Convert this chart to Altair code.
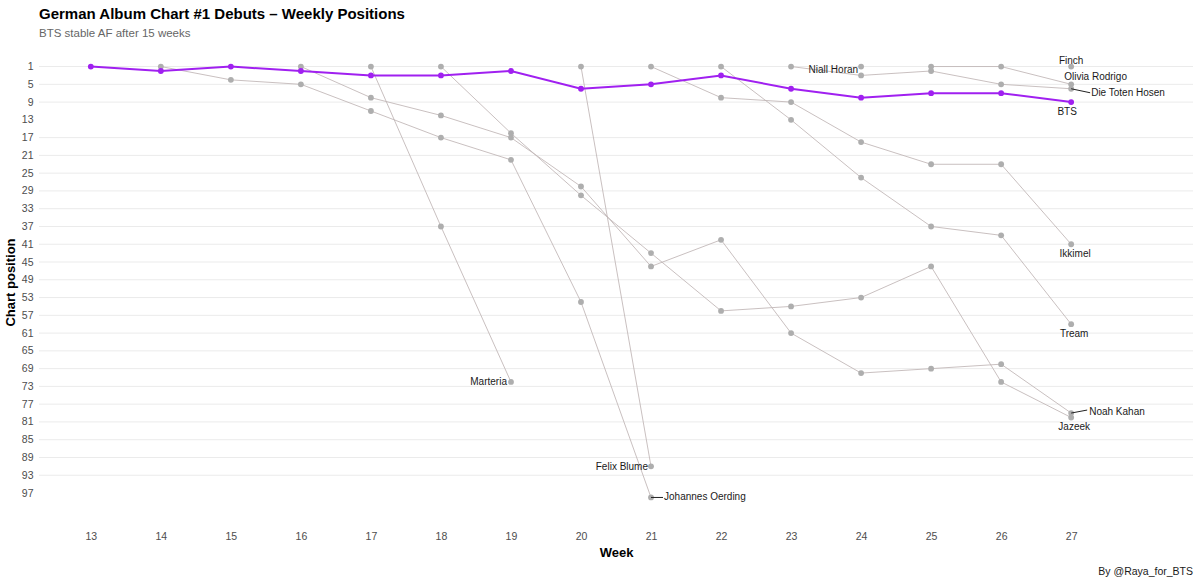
import altair as alt
import pandas as pd

TITLE = "German Album Chart #1 Debuts – Weekly Positions"
SUBTITLE = "BTS stable AF after 15 weeks"
CAPTION = "By @Raya_for_BTS"
X_TITLE = "Week"
Y_TITLE = "Chart position"

WEEK_TICKS = list(range(13, 28))
POS_TICKS = list(range(1, 98, 4))
GRID_POS = [p for p in POS_TICKS if p not in (13, 97)]

# weekly chart positions, starting at each album's debut week
BTS = [1, 2, 1, 2, 3, 3, 2, 6, 5, 3, 6, 8, 7, 7, 9]
JOHANNES_OERDING = [1, 4, 5, 11, 17, 22, 54, 98]
NOAH_KAHAN = [1, 8, 12, 17, 28, 46, 40, 61, 70, 69, 68, 79]
MARTERIA = [1, 37, 72]
JAZEEK = [1, 16, 30, 43, 56, 55, 53, 46, 72, 80]
FELIX_BLUME = [1, 91]
IKKIMEL = [1, 8, 9, 18, 23, 23, 41]
TREAM = [1, 13, 26, 37, 39, 59]
DIE_TOTEN_HOSEN = [1, 3, 2, 5, 6]
NIALL_HORAN = [1]
OLIVIA_RODRIGO = [1, 1, 5]
FINCH = [1]

ARTISTS = ["BTS", "Johannes Oerding", "Noah Kahan", "Marteria", "Jazeek",
           "Felix Blume", "Ikkimel", "Tream", "Die Toten Hosen",
           "Niall Horan", "Olivia Rodrigo", "Finch"]
DEBUT_WEEKS = [13, 14, 16, 17, 18, 20, 21, 22, 23, 24, 25, 27]
POSITIONS = [BTS, JOHANNES_OERDING, NOAH_KAHAN, MARTERIA, JAZEEK, FELIX_BLUME,
             IKKIMEL, TREAM, DIE_TOTEN_HOSEN, NIALL_HORAN, OLIVIA_RODRIGO, FINCH]

rows = []
for name, start, pos in zip(ARTISTS, DEBUT_WEEKS, POSITIONS):
    for i, p in enumerate(pos):
        rows.append({"artist": name, "week": start + i, "pos": p})
df = pd.DataFrame(rows)
last = df.groupby("artist").tail(1)

# label placement styles: (align, dx, dy)
LABEL_STYLE = {
    "Marteria": ("right", -4, 0),
    "Felix Blume": ("right", -3, 1),
    "Johannes Oerding": ("left", 13, 0),
    "Niall Horan": ("right", -3, 3),
    "Finch": ("center", 0, -6),
    "Olivia Rodrigo": ("left", -7, -7),
    "Die Toten Hosen": ("left", 20, 4),
    "BTS": ("center", -4, 10),
    "Ikkimel": ("center", 4, 10),
    "Tream": ("center", 3, 10),
    "Noah Kahan": ("left", 18, -1),
    "Jazeek": ("center", 3, 10),
}
# leader segments: (dx end, dy end)
SEGMENT_STYLE = {
    "Die Toten Hosen": (19, 4),
    "Noah Kahan": (16, -3),
    "Johannes Oerding": (12, 0),
}

W, H = 1154, 474
FONT = "Liberation Sans"

x = alt.X("week:Q",
          scale=alt.Scale(domain=[12.26, 28.74], nice=False, zero=False),
          axis=alt.Axis(values=WEEK_TICKS, title=X_TITLE, grid=False, domain=False,
                        ticks=False, labelPadding=12, labelFontSize=10.5,
                        labelColor="#4d4d4d", titleFontSize=13, titleFontWeight="bold",
                        titleColor="#000000", titlePadding=5, format="d",
                        labelFont=FONT, titleFont=FONT))
y = alt.Y("pos:Q",
          scale=alt.Scale(domain=[-3.85, 102.85], reverse=True, nice=False, zero=False),
          axis=alt.Axis(values=POS_TICKS, title=Y_TITLE, grid=False, domain=False,
                        ticks=False, labelPadding=6, labelFontSize=10.5,
                        labelColor="#4d4d4d", titleFontSize=13, titleFontWeight="bold",
                        titleColor="#000000", titlePadding=4, format="d",
                        labelFont=FONT, titleFont=FONT))

grid = alt.Chart(pd.DataFrame({"pos": GRID_POS})).mark_rule(
    color="#ebebeb", strokeWidth=1).encode(y=y, x=alt.value(0), x2=alt.value(W))

others = df[df["artist"] != "BTS"]
bts = df[df["artist"] == "BTS"]

gray_lines = alt.Chart(others).mark_line(color="#bfb5b5", strokeWidth=0.85).encode(
    x=x, y=y, detail="artist:N")
gray_pts = alt.Chart(others).mark_circle(color="#aeaeae", size=34, opacity=1).encode(
    x=x, y=y)
bts_line = alt.Chart(bts).mark_line(color="#A020F0", strokeWidth=2).encode(x=x, y=y)
bts_pts = alt.Chart(bts).mark_circle(color="#A020F0", size=34, opacity=1).encode(x=x, y=y)

layers = [grid, gray_lines, gray_pts, bts_line, bts_pts]

for name, (dxe, dye) in SEGMENT_STYLE.items():
    d = last[last["artist"] == name]
    layers.append(alt.Chart(d).mark_rule(color="#222222", strokeWidth=1,
                                         x2Offset=dxe, y2Offset=dye).encode(
        x=x, y=y, x2="week:Q", y2="pos:Q"))

for name, (align, dx, dy) in LABEL_STYLE.items():
    d = last[last["artist"] == name]
    layers.append(alt.Chart(d).mark_text(align=align, baseline="middle", dx=dx, dy=dy,
                                         fontSize=10, font=FONT, color="#1a1a1a").encode(
        x=x, y=y, text="artist:N"))

caption = alt.Chart(pd.DataFrame({"t": [CAPTION]})).mark_text(
    align="right", baseline="middle", fontSize=10.5, font=FONT, color="#1a1a1a").encode(
    x=alt.value(W), y=alt.value(527), text="t:N")
layers.append(caption)

chart = alt.layer(*layers).properties(
    width=W, height=H,
    padding={"left": 39, "top": 45, "right": 7, "bottom": 64},
    autosize=alt.AutoSizeParams(type="none"),
    title=alt.TitleParams(text=TITLE, subtitle=SUBTITLE, anchor="start", frame="group",
                          font=FONT, fontSize=15, fontWeight="bold", color="#000000",
                          subtitleFont=FONT, subtitleFontSize=11.5,
                          subtitleColor="#666666", subtitlePadding=6, offset=6),
).configure(background="white").configure_view(stroke=None)

chart.save("out.html", embed_options={"renderer": "svg", "actions": False})
